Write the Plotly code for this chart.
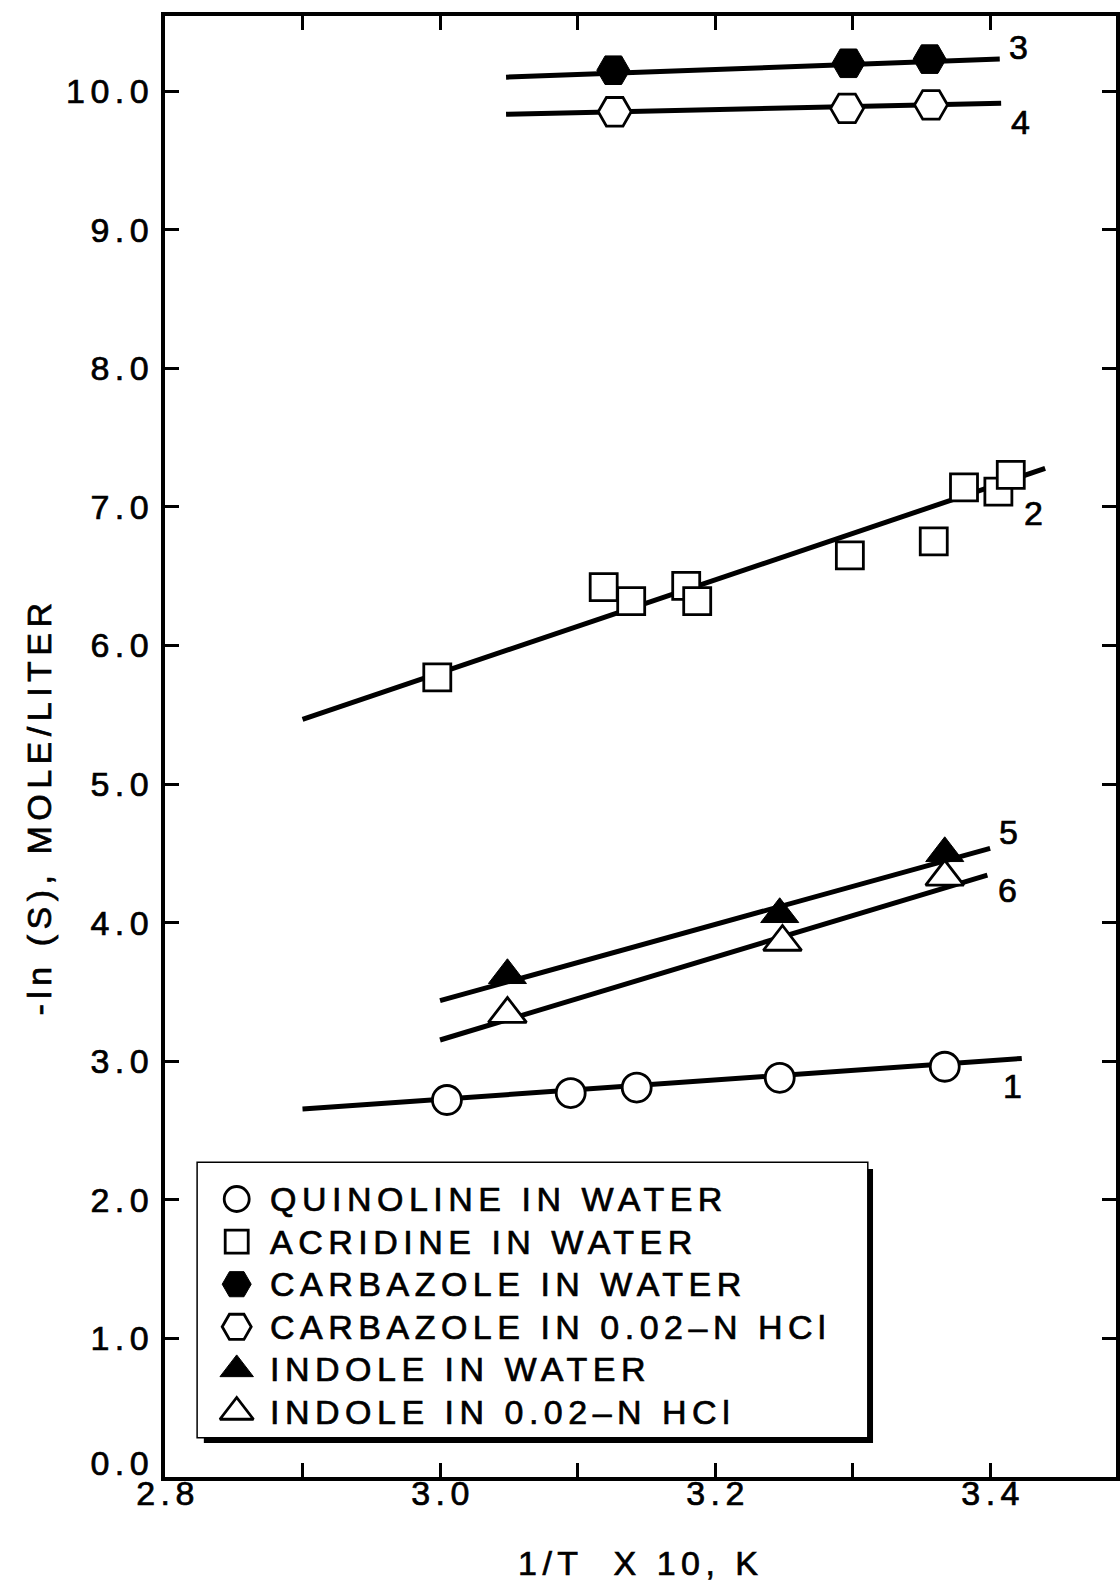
import plotly.graph_objects as go

FONT = "Liberation Sans, Arial, Helvetica, sans-serif"
FS = 34

# ---- measured solubilities: x = 1/T x 10^3 (1/K), y = -ln(S) ----
quinoline_x = [3.005, 3.095, 3.143, 3.247, 3.367]
quinoline_y = [2.72, 2.77, 2.81, 2.88, 2.96]

acridine_x = [2.998, 3.119, 3.139, 3.179, 3.187, 3.298, 3.359, 3.381, 3.406, 3.415]
acridine_y = [5.77, 6.42, 6.32, 6.43, 6.32, 6.65, 6.75, 7.14, 7.11, 7.23]

carbazole_water_x = [3.126, 3.297, 3.356]
carbazole_water_y = [10.15, 10.20, 10.23]

carbazole_hcl_x = [3.127, 3.296, 3.357]
carbazole_hcl_y = [9.85, 9.875, 9.90]

indole_water_x = [3.049, 3.247, 3.367]
indole_water_y = [3.62, 4.06, 4.50]

indole_hcl_x = [3.049, 3.249, 3.367]
indole_hcl_y = [3.34, 3.86, 4.33]

# ---- fitted regression lines (end points), numbered 1..6 ----
fit_x = {
    "1": [2.900, 3.423],
    "2": [2.900, 3.440],
    "3": [3.048, 3.407],
    "4": [3.048, 3.408],
    "5": [3.000, 3.400],
    "6": [3.000, 3.398],
}
fit_y = {
    "1": [2.655, 3.020],
    "2": [5.467, 7.277],
    "3": [10.100, 10.231],
    "4": [9.832, 9.911],
    "5": [3.437, 4.536],
    "6": [3.153, 4.343],
}

series_names = [
    "QUINOLINE IN WATER",
    "ACRIDINE IN WATER",
    "CARBAZOLE IN WATER",
    "CARBAZOLE IN 0.02\u2013N HCl",
    "INDOLE IN WATER",
    "INDOLE IN 0.02\u2013N HCl",
]

x_tick_vals = [2.8, 2.9, 3.0, 3.1, 3.2, 3.3, 3.4]
x_tick_text = ["2.8", "", "3.0", "", "3.2", "", "3.4"]
y_tick_vals = [0, 1, 2, 3, 4, 5, 6, 7, 8, 9, 10]
y_tick_text = ["0.0", "1.0", "2.0", "3.0", "4.0", "5.0", "6.0", "7.0", "8.0", "9.0", "10.0"]

# ---- page geometry (pixels) ----
W, H = 1120, 1587
ML, MR, MT, MB = 165, 0, 16, 110
PW, PH = W - ML - MR, H - MT - MB
PX_PER_X = 1381.0      # pixels per unit of 1/T
PX_PER_Y = 138.6       # pixels per unit of -ln(S)
X0, Y0 = 2.8, 0.0


def spaced(text, px=5.5, extra=""):
    """Tracked, slightly heavier lettering."""
    return (f"<span style='letter-spacing:{px}px;stroke:black;"
            f"stroke-width:0.7px;{extra}'>{text}</span>")


def paper_x(px):
    return (px - ML) / PW


def paper_y(py):
    return (H - MB - py) / PH


marker_styles = [
    dict(symbol="circle", size=29, color="white", line=dict(color="black", width=2.8)),
    dict(symbol="square", size=27, color="white", line=dict(color="black", width=2.8)),
    dict(symbol="hexagon2", size=33, color="black", line=dict(color="black", width=1)),
    dict(symbol="hexagon2", size=33, color="white", line=dict(color="black", width=2.8)),
    dict(symbol="triangle-up", size=33, color="black", line=dict(color="black", width=1)),
    dict(symbol="triangle-up", size=33, color="white", line=dict(color="black", width=2.8)),
]
series_xy = [
    (quinoline_x, quinoline_y),
    (acridine_x, acridine_y),
    (carbazole_water_x, carbazole_water_y),
    (carbazole_hcl_x, carbazole_hcl_y),
    (indole_water_x, indole_water_y),
    (indole_hcl_x, indole_hcl_y),
]

fig = go.Figure()

# regression lines underneath the points
for key in fit_x:
    fig.add_trace(go.Scatter(
        x=fit_x[key], y=fit_y[key], mode="lines",
        line=dict(color="black", width=5), showlegend=False, hoverinfo="skip",
    ))

# measured points
for (xs, ys), name, mk in zip(series_xy, series_names, marker_styles):
    fig.add_trace(go.Scatter(
        x=xs, y=ys, mode="markers", name=name, marker=mk,
        showlegend=False, cliponaxis=False,
    ))

# line numbers next to the right-hand end of each fit (pixel offsets)
label_offsets = {"1": (-9, -28), "2": (-12, -45), "3": (19, 12),
                 "4": (19, -19), "5": (18, 16), "6": (20, -15)}
annotations = []
for key, (dx, dy) in label_offsets.items():
    annotations.append(dict(
        x=fit_x[key][-1], y=fit_y[key][-1], xref="x", yref="y",
        text=spaced(key, 0), showarrow=False, xshift=dx, yshift=dy,
        xanchor="center", yanchor="middle",
        font=dict(family=FONT, size=FS, color="black"),
    ))

# ---- legend box with drop shadow ----
LG_L, LG_R, LG_T, LG_B = 198, 870, 1163, 1437
SHADOW = 6
ROW0, ROW_STEP = 1199, 42.6
SYMBOL_X, TEXT_X = 237, 268

shapes = [
    dict(type="rect", xref="paper", yref="paper", layer="below",
         x0=paper_x(LG_L + SHADOW), x1=paper_x(LG_R + SHADOW),
         y0=paper_y(LG_B + SHADOW), y1=paper_y(LG_T + SHADOW),
         fillcolor="black", line=dict(width=0)),
    dict(type="rect", xref="paper", yref="paper", layer="below",
         x0=paper_x(LG_L), x1=paper_x(LG_R),
         y0=paper_y(LG_B), y1=paper_y(LG_T),
         fillcolor="white", line=dict(color="black", width=3)),
]

legend_rows = list(range(len(series_names)))
for row, name, mk in zip(legend_rows, series_names, marker_styles):
    sym = dict(mk)
    sym["size"] = mk["size"] - 4
    fig.add_trace(go.Scatter(
        x=[SYMBOL_X], y=[row], xaxis="x2", yaxis="y2", mode="markers",
        marker=sym, showlegend=False, hoverinfo="skip", cliponaxis=False,
    ))
    annotations.append(dict(
        x=TEXT_X, y=row, xref="x2", yref="y2", text=spaced(name),
        showarrow=False, xanchor="left", yanchor="middle",
        font=dict(family=FONT, size=FS, color="black"),
    ))

# axis titles
annotations.append(dict(
    x=paper_x(643), y=paper_y(1563), xref="paper", yref="paper",
    text=spaced("1/T\u00a0\u00a0X 10, K"), showarrow=False,
    xanchor="center", yanchor="middle",
    font=dict(family=FONT, size=FS, color="black"),
))
annotations.append(dict(
    x=paper_x(38), y=paper_y(807), xref="paper", yref="paper",
    text=spaced("-ln (S), MOLE/LITER"), showarrow=False, textangle=-90,
    xanchor="center", yanchor="middle",
    font=dict(family=FONT, size=FS, color="black"),
))

# the origin label is lifted so it clears the "2.8" below it
y_labels = [spaced(t, extra="baseline-shift:14px" if v == 0 else "")
            for v, t in zip(y_tick_vals, y_tick_text)]

axis_common = dict(
    showgrid=False, zeroline=False, showline=True, linecolor="black", linewidth=4,
    ticks="inside", ticklen=14, tickwidth=2.5, tickcolor="black", mirror="ticks",
    tickfont=dict(family=FONT, size=FS, color="black"), fixedrange=True,
)

fig.update_layout(
    width=W, height=H,
    margin=dict(l=ML, r=MR, t=MT, b=MB, pad=0),
    paper_bgcolor="white", plot_bgcolor="white",
    showlegend=False, hovermode=False,
    xaxis=dict(
        range=[X0, X0 + PW / PX_PER_X], tickmode="array",
        tickvals=x_tick_vals, ticktext=[spaced(t) for t in x_tick_text],
        ticklabelshift=3, ticklabelstandoff=-17, **axis_common,
    ),
    yaxis=dict(
        range=[Y0, Y0 + PH / PX_PER_Y], tickmode="array",
        tickvals=y_tick_vals, ticktext=y_labels,
        ticklabelstandoff=0, **axis_common,
    ),
    xaxis2=dict(
        domain=[paper_x(LG_L), paper_x(LG_R)], range=[LG_L, LG_R],
        anchor="y2", visible=False, fixedrange=True,
    ),
    yaxis2=dict(
        domain=[paper_y(LG_B), paper_y(LG_T)],
        range=[(LG_B - ROW0) / ROW_STEP, (LG_T - ROW0) / ROW_STEP],
        anchor="x2", visible=False, fixedrange=True,
    ),
    shapes=shapes,
    annotations=annotations,
)

fig.write_html("out.html", config={"displayModeBar": False})
